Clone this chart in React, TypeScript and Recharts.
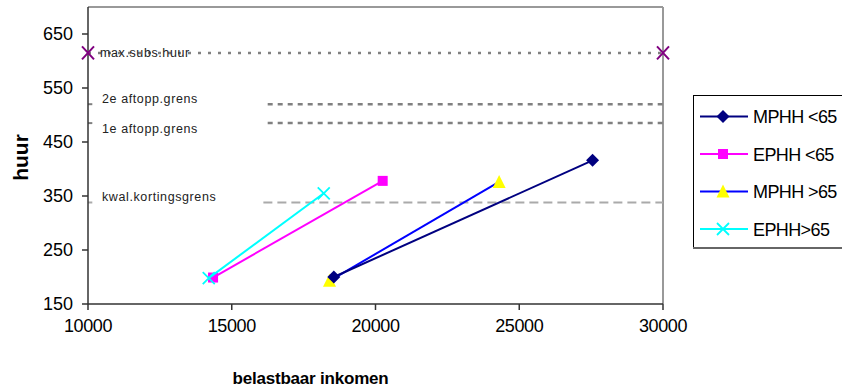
import React from 'react';
import { ScatterChart, Scatter, XAxis, YAxis, ReferenceLine, Legend, Label } from 'recharts';

// Axis ticks
const incomeTicks = [10000, 15000, 20000, 25000, 30000];
const rentTicks = [150, 250, 350, 450, 550, 650];
const incomeDomain = [10000, 30000];
const rentDomain = [150, 700];

// Household series: belastbaar inkomen (x) vs huur (y)
const seriesNames = ['MPHH <65', 'EPHH <65', 'MPHH >65', 'EPHH>65'];
const mphhUnder65 = [{ x: 18550, y: 200 }, { x: 27550, y: 416 }];
const ephhUnder65 = [{ x: 14350, y: 199 }, { x: 20250, y: 378 }];
const mphhOver65 = [{ x: 18400, y: 193 }, { x: 24300, y: 376 }];
const ephhOver65 = [{ x: 14200, y: 198 }, { x: 18200, y: 355 }];

// Rent limits
const maxSubsHuur = 615;
const tweedeAftoppingsgrens = 520;
const eersteAftoppingsgrens = 485;
const kwaliteitsKortingsgrens = 338;
const maxSubsPoints = [{ x: 10000, y: maxSubsHuur }, { x: 30000, y: maxSubsHuur }];
const limitLabels = ['max.subs.huur', '2e aftopp.grens', '1e aftopp.grens', 'kwal.kortingsgrens'];
// income range on which the limit lines are shown to the right of their captions
const aftoppLineStart = 16250;
const kortingLineStart = 16100;
const stubEnd = 10150;

const FONT = "'Liberation Sans', Arial, sans-serif";

type MarkerKind = 'diamond' | 'square' | 'triangle' | 'x';

function drawMarker(kind: MarkerKind, cx: number, cy: number, color: string, key?: string) {
  if (cx == null || cy == null) return null;
  switch (kind) {
    case 'diamond':
      return <path key={key} d={`M${cx},${cy - 6.5} L${cx + 6.5},${cy} L${cx},${cy + 6.5} L${cx - 6.5},${cy} Z`} fill={color} />;
    case 'square':
      return <rect key={key} x={cx - 5} y={cy - 5} width={10} height={10} fill={color} />;
    case 'triangle':
      return <path key={key} d={`M${cx},${cy - 7} L${cx + 6.5},${cy + 6} L${cx - 6.5},${cy + 6} Z`} fill={color} />;
    case 'x':
      return (
        <path key={key} d={`M${cx - 6},${cy - 6} L${cx + 6},${cy + 6} M${cx - 6},${cy + 6} L${cx + 6},${cy - 6}`} stroke={color} strokeWidth={1.8} fill="none" />
      );
  }
  return null;
}

const seriesStyles: { line: string; marker: MarkerKind; markerColor: string }[] = [
  { line: '#000080', marker: 'diamond', markerColor: '#000080' },
  { line: '#FF00FF', marker: 'square', markerColor: '#FF00FF' },
  { line: '#0000FF', marker: 'triangle', markerColor: '#FFFF00' },
  { line: '#00FFFF', marker: 'x', markerColor: '#00FFFF' },
];

const seriesData = [mphhUnder65, ephhUnder65, mphhOver65, ephhOver65];

const makeShape = (kind: MarkerKind, color: string) => (props: any) => drawMarker(kind, props.cx, props.cy, color) || <g />;

const caption = (text: string, dx: number, dy: number) => (props: any) => {
  const vb = props.viewBox || {};
  return (
    <text x={(vb.x ?? 0) + dx} y={(vb.y ?? 0) + dy} fontSize={12.5} letterSpacing={0.6} fill="#222" fontFamily={FONT}>
      {text}
    </text>
  );
};

function LegendBox() {
  const rowH = 37.5;
  return (
    <svg width={160} height={156} style={{ display: 'block' }}>
      <line x1={0.5} y1={0.5} x2={160} y2={0.5} stroke="#000" strokeWidth={1} />
      <line x1={0.5} y1={0} x2={0.5} y2={153} stroke="#000" strokeWidth={1} />
      <line x1={0} y1={153} x2={160} y2={153} stroke="#666" strokeWidth={2} />
      {seriesNames.map((name, i) => {
        const cy = 21.5 + i * rowH;
        const st = seriesStyles[i];
        return (
          <g key={name}>
            <line x1={7} y1={cy} x2={55} y2={cy} stroke={st.line} strokeWidth={2} />
            {drawMarker(st.marker, 30, cy, st.markerColor)}
            <text x={60} y={cy + 6.5} fontSize={18} letterSpacing={-0.6} fill="#000" fontFamily={FONT}>
              {name}
            </text>
          </g>
        );
      })}
    </svg>
  );
}

export default function App() {
  return (
    <div style={{ position: 'absolute', left: 0, top: 0, width: 842, height: 390, overflow: 'hidden', background: '#fff' }}>
      <ScatterChart width={842} height={390} margin={{ top: 7, right: 179, left: 0, bottom: 0 }}>
        <XAxis
          type="number"
          dataKey="x"
          domain={incomeDomain}
          ticks={incomeTicks}
          height={86}
          stroke="#333"
          strokeWidth={1.5}
          tickSize={6}
          tickMargin={9}
          tick={{ fontSize: 18, fill: '#000', fontFamily: FONT, letterSpacing: -0.4 }}
        >
          <Label
            content={(p: any) => {
              const vb = p.viewBox || {};
              return (
                <text x={(vb.x ?? 0) + (vb.width ?? 0) / 2 - 65} y={384} textAnchor="middle" fontSize={17} fontWeight="bold" letterSpacing={-0.2} fill="#000" fontFamily={FONT}>
                  belastbaar inkomen
                </text>
              );
            }}
          />
        </XAxis>
        <YAxis
          type="number"
          dataKey="y"
          domain={rentDomain}
          ticks={rentTicks}
          width={88}
          stroke="#333"
          strokeWidth={1.5}
          tickSize={6}
          tickMargin={9}
          tick={{ fontSize: 18, fill: '#000', fontFamily: FONT }}
        >
          <Label
            content={(p: any) => {
              const vb = p.viewBox || {};
              const cy = (vb.y ?? 0) + (vb.height ?? 0) / 2 + 2;
              return (
                <text x={28} y={cy} transform={`rotate(-90 28 ${cy})`} textAnchor="middle" fontSize={21} fontWeight="bold" fill="#000" fontFamily={FONT}>
                  huur
                </text>
              );
            }}
          />
        </YAxis>

        {/* plot frame */}
        <ReferenceLine y={rentDomain[1]} stroke="#999" strokeWidth={2} />
        <ReferenceLine x={incomeDomain[1]} stroke="#999" strokeWidth={2} />

        {/* max. subsidiabele huur */}
        <ReferenceLine
          segment={[{ x: incomeDomain[0], y: maxSubsHuur }, { x: incomeDomain[1], y: maxSubsHuur }]}
          stroke="#808080"
          strokeWidth={2.5}
          strokeDasharray="3 7"
        >
          <Label content={caption(limitLabels[0], 12, 4)} />
        </ReferenceLine>

        {/* 2e aftoppingsgrens */}
        <ReferenceLine
          segment={[{ x: incomeDomain[0], y: tweedeAftoppingsgrens }, { x: stubEnd, y: tweedeAftoppingsgrens }]}
          stroke="#808080"
          strokeWidth={2}
        >
          <Label content={caption(limitLabels[1], 14, -1)} />
        </ReferenceLine>
        <ReferenceLine
          segment={[{ x: aftoppLineStart, y: tweedeAftoppingsgrens }, { x: incomeDomain[1], y: tweedeAftoppingsgrens }]}
          stroke="#808080"
          strokeWidth={2.5}
          strokeDasharray="5 5"
        />

        {/* 1e aftoppingsgrens */}
        <ReferenceLine
          segment={[{ x: incomeDomain[0], y: eersteAftoppingsgrens }, { x: stubEnd, y: eersteAftoppingsgrens }]}
          stroke="#808080"
          strokeWidth={2}
        >
          <Label content={caption(limitLabels[2], 14, 10)} />
        </ReferenceLine>
        <ReferenceLine
          segment={[{ x: aftoppLineStart, y: eersteAftoppingsgrens }, { x: incomeDomain[1], y: eersteAftoppingsgrens }]}
          stroke="#808080"
          strokeWidth={2.5}
          strokeDasharray="5 5"
        />

        {/* kwaliteitskortingsgrens */}
        <ReferenceLine
          segment={[{ x: incomeDomain[0], y: kwaliteitsKortingsgrens }, { x: stubEnd, y: kwaliteitsKortingsgrens }]}
          stroke="#aaaaaa"
          strokeWidth={2}
        >
          <Label content={caption(limitLabels[3], 14, -1)} />
        </ReferenceLine>
        <ReferenceLine
          segment={[{ x: kortingLineStart, y: kwaliteitsKortingsgrens }, { x: incomeDomain[1], y: kwaliteitsKortingsgrens }]}
          stroke="#aaaaaa"
          strokeWidth={2}
          strokeDasharray="9 5"
        />

        <Scatter
          name="max.subs.huur"
          data={maxSubsPoints}
          isAnimationActive={false}
          legendType="none"
          shape={(p: any) => (
            <path d={`M${p.cx - 6},${p.cy - 6.5} L${p.cx + 6},${p.cy + 6.5} M${p.cx - 6},${p.cy + 6.5} L${p.cx + 6},${p.cy - 6.5}`} stroke="#800080" strokeWidth={2} fill="none" />
          )}
        />

        {[2, 0, 1, 3].map((i) => (
          <Scatter
            key={seriesNames[i]}
            name={seriesNames[i]}
            data={seriesData[i]}
            fill={seriesStyles[i].markerColor}
            line={{ stroke: seriesStyles[i].line, strokeWidth: 2 }}
            isAnimationActive={false}
            shape={makeShape(seriesStyles[i].marker, seriesStyles[i].markerColor)}
          />
        ))}

        <Legend
          layout="vertical"
          align="center"
          verticalAlign="middle"
          wrapperStyle={{ left: 693, top: 95, width: 160, height: 156 }}
          content={() => <LegendBox />}
        />
      </ScatterChart>
    </div>
  );
}
